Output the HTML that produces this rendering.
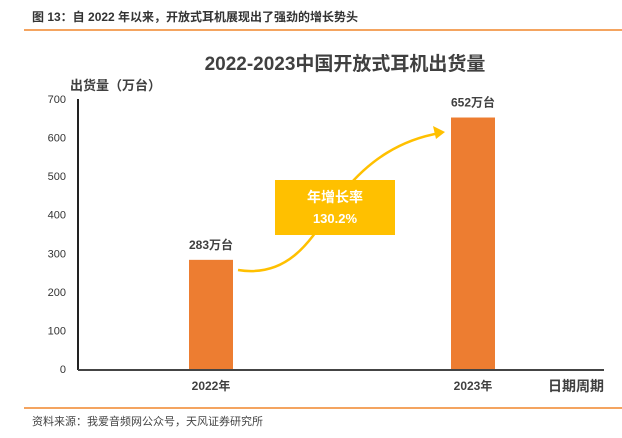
<!DOCTYPE html>
<html><head><meta charset="utf-8"><style>
body{margin:0;background:#fff;width:622px;height:433px;overflow:hidden;font-family:"Liberation Sans","Noto Sans CJK SC",sans-serif}
</style></head><body>
<svg width="622" height="433" xmlns="http://www.w3.org/2000/svg">
<text x="32" y="21" font-size="12" font-weight="bold" fill="#333" font-family="Liberation Sans,Noto Sans CJK SC,sans-serif">图 13：自 2022 年以来，开放式耳机展现出了强劲的增长势头</text>
<line x1="24" y1="30" x2="622" y2="30" stroke="#f4a460" stroke-width="2"/>
<text x="345" y="70" text-anchor="middle" font-size="19" font-weight="bold" fill="#404040" font-family="Liberation Sans,Noto Sans CJK SC,sans-serif">2022-2023中国开放式耳机出货量</text>
<text x="70" y="90" font-size="13" font-weight="bold" fill="#404040" font-family="Liberation Sans,Noto Sans CJK SC,sans-serif">出货量（万台）</text>
<g id="yticks"></g>
<g id="bars"></g>
<line x1="78" y1="99" x2="78" y2="370" stroke="#222" stroke-width="2"/>
<line x1="78" y1="370" x2="604" y2="370" stroke="#444" stroke-width="2"/>
<text x="604" y="391" text-anchor="end" font-size="14" font-weight="bold" fill="#404040" font-family="Liberation Sans,Noto Sans CJK SC,sans-serif">日期周期</text>
<path d="M238,270 C300,280 320,220 345,190 C370,160 400,140 440,133" fill="none" stroke="#ffc000" stroke-width="2.5"/>
<polygon points="445,132 433,126 436,139" fill="#ffc000"/>
<rect x="275" y="180" width="120" height="55" fill="#ffc000"/>
<text x="335" y="202" text-anchor="middle" font-size="14" font-weight="bold" fill="#fff" font-family="Liberation Sans,Noto Sans CJK SC,sans-serif">年增长率</text>
<text x="335" y="223" text-anchor="middle" font-size="13" font-weight="bold" fill="#fff" font-family="Liberation Sans,Noto Sans CJK SC,sans-serif">130.2%</text>
<line x1="24" y1="408" x2="622" y2="408" stroke="#f4a460" stroke-width="2"/>
<text x="32" y="425" font-size="11" fill="#444" font-family="Liberation Sans,Noto Sans CJK SC,sans-serif">资料来源：我爱音频网公众号，天风证券研究所</text>
</svg>
<script>
const categories=["2022年","2023年"];
const values=[283,652];
const valueLabels=["283万台","652万台"];
const ticks=[0,100,200,300,400,500,600,700];
const NS="http://www.w3.org/2000/svg";
const y=v=>369-v*(270/700);
const xc=i=>211+i*262;
const F="Liberation Sans,Noto Sans CJK SC,sans-serif";
const yt=document.getElementById('yticks');
ticks.forEach(t=>{const e=document.createElementNS(NS,'text');


e.setAttribute('x',66);e.setAttribute('y',y(t)+4);e.setAttribute('text-anchor','end');e.setAttribute('font-size','11');e.setAttribute('fill','#333');e.setAttribute('font-family',F);e.textContent=t;yt.appendChild(e);});
const bg=document.getElementById('bars');
categories.forEach((c,i)=>{
const r=document.createElementNS(NS,'rect');


r.setAttribute('x',xc(i)-22);r.setAttribute('y',y(values[i]));r.setAttribute('width',44);r.setAttribute('height',369-y(values[i]));r.setAttribute('fill','#ed7d31');bg.appendChild(r);
const l=document.createElementNS(NS,'text');


l.setAttribute('x',xc(i));l.setAttribute('y',y(values[i])-11);l.setAttribute('text-anchor','middle');l.setAttribute('font-size','12');l.setAttribute('font-weight','bold');l.setAttribute('fill','#404040');l.setAttribute('font-family',F);l.textContent=valueLabels[i];bg.appendChild(l);
const x=document.createElementNS(NS,'text');


x.setAttribute('x',xc(i));x.setAttribute('y',390);x.setAttribute('text-anchor','middle');x.setAttribute('font-size','12');x.setAttribute('font-weight','bold');x.setAttribute('fill','#404040');x.setAttribute('font-family',F);x.textContent=c;bg.appendChild(x);
});
</script>
</body></html>
